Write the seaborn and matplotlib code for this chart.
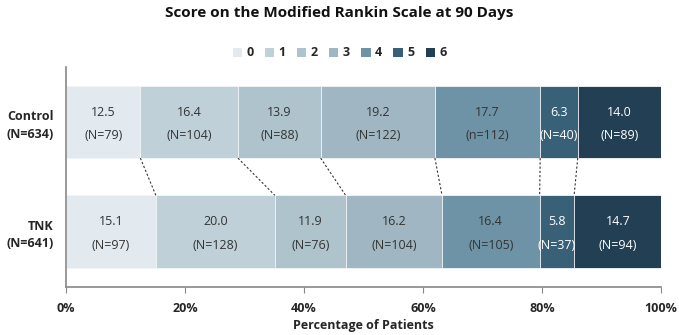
import numpy as np
import pandas as pd
import matplotlib
matplotlib.use("Agg")
import matplotlib.pyplot as plt
import seaborn as sns
from matplotlib.patches import Patch

# mRS distribution at 90 days (percent of patients and counts)
groups = ["Control\n(N=634)", "TNK\n(N=641)"]
scores = ["0", "1", "2", "3", "4", "5", "6"]
control_pct = [12.5, 16.4, 13.9, 19.2, 17.7, 6.3, 14.0]
tnk_pct = [15.1, 20.0, 11.9, 16.2, 16.4, 5.8, 14.7]
control_n = ["(N=79)", "(N=104)", "(N=88)", "(N=122)", "(n=112)", "(N=40)", "(N=89)"]
tnk_n = ["(N=97)", "(N=128)", "(N=76)", "(N=104)", "(N=105)", "(N=37)", "(N=94)"]
colors = ["#e2eaef", "#bfd0d8", "#aec3cc", "#a0b7c3", "#6e93a6", "#386178", "#223f54"]
text_colors = ["#333333"] * 5 + ["#ffffff"] * 2

sns.set_theme(style="white")
plt.rcParams["font.family"] = ["Open Sans", "DejaVu Sans"]

pct = np.array([control_pct, tnk_pct])
cum = pct.cumsum(axis=1)

fig = plt.figure(figsize=(6.79, 3.35), dpi=100)
ax = fig.add_axes([66 / 679, 1 - 287 / 335, (661 - 66) / 679, (287 - 67) / 335])

bar_h = 0.66
# stacked bars: draw cumulative totals from the last score backwards
for k in range(len(scores) - 1, -1, -1):
    df = pd.DataFrame({"group": groups, "cum": cum[:, k]})
    sns.barplot(data=df, x="cum", y="group", orient="h", color=colors[k],
                width=bar_h, edgecolor="#f4f7f9", linewidth=0.6,
                saturation=1, ax=ax)

# segment labels
for i, (vals, ns) in enumerate([(control_pct, control_n), (tnk_pct, tnk_n)]):
    left = 0.0
    for k, (v, n) in enumerate(zip(vals, ns)):
        xc = left + v / 2
        ax.text(xc, i - 0.09, f"{v:.1f}", ha="center", va="center",
                fontsize=9, color=text_colors[k])
        ax.text(xc, i + 0.125, n, ha="center", va="center",
                fontsize=9, color=text_colors[k])
        left += v

# dashed connectors between the category boundaries
for k in range(len(scores) - 1):
    ax.plot([cum[0, k], cum[1, k]], [0 + bar_h / 2, 1 - bar_h / 2],
            ls=(0, (2, 1.8)), color="#333333", lw=0.8)

ax.set_xlim(0, 100)
ax.set_ylim(1.507, -0.502)
ax.set_xticks([0, 20, 40, 60, 80, 100])
ax.set_xticklabels(["0%", "20%", "40%", "60%", "80%", "100%"],
                   fontsize=9, fontweight="bold")
ax.set_yticks([0, 1])
ax.set_yticklabels(groups, fontsize=9, fontweight="bold", linespacing=1.45)
ax.set_xlabel("Percentage of Patients", fontsize=9, fontweight="bold", labelpad=3)
ax.set_ylabel("")
ax.tick_params(axis="x", length=4, width=0.8, color="#888888", pad=7, direction="out", bottom=True)
ax.tick_params(axis="y", length=0, pad=9)
for s in ["top", "right"]:
    ax.spines[s].set_visible(False)
for s in ["left", "bottom"]:
    ax.spines[s].set_color("#888888")
    ax.spines[s].set_linewidth(1.2)

handles = [Patch(facecolor=c, edgecolor="none") for c in colors]
fig.legend(handles, scores, loc="center", bbox_to_anchor=(0.5, 1 - 53 / 335),
           ncol=7, frameon=False, handlelength=0.75, handleheight=0.75,
           handletextpad=0.35, columnspacing=0.9,
           prop={"family": "Open Sans", "weight": "bold", "size": 9})

fig.text(0.5, 1 - 13 / 335, "Score on the Modified Rankin Scale at 90 Days",
         ha="center", va="center", fontsize=11, fontweight="bold", color="#111111")

fig.savefig("out.png", dpi=100)
